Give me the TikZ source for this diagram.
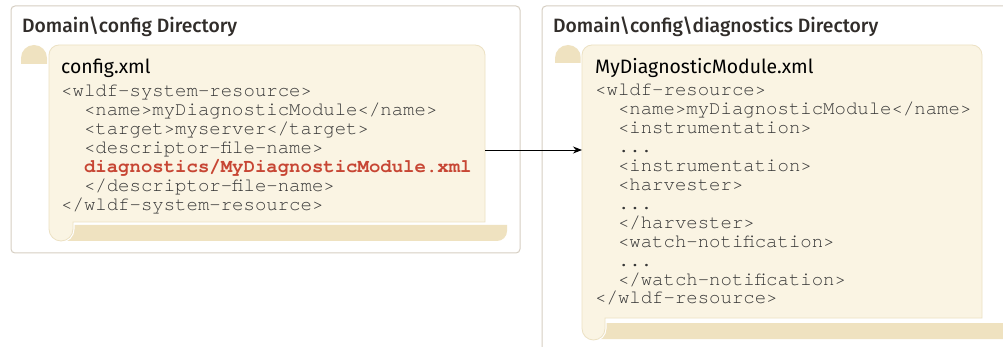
\documentclass[tikz,border=0pt]{standalone}
\usepackage{fontspec}
\setmainfont{Fira Sans}
\newfontfamily\headfont{Fira Sans Medium}
\setmonofont{texgyrecursor-regular.otf}[BoldFont=texgyrecursor-bold.otf]
\usetikzlibrary{arrows.meta}

\definecolor{paper}{RGB}{250,244,227}
\definecolor{paperedge}{RGB}{236,225,195}
\definecolor{curl}{RGB}{239,226,192}
\definecolor{frame}{RGB}{214,206,194}
\definecolor{ink}{RGB}{49,45,42}
\definecolor{codegray}{RGB}{55,55,55}
\definecolor{oraclered}{RGB}{199,70,52}

\tikzset{
	dirframe/.style={draw=frame, line width=1pt, rounded corners=4pt, fill=white},
	pagebody/.style={fill=paper, draw=paperedge, line width=0.8pt},
	pagecurl/.style={fill=curl},
	pagegap/.style={draw=white, line width=3pt},
	dirtitle/.style={anchor=base west, inner sep=0pt, text=ink, font=\headfont\fontsize{19.3}{19}\selectfont},
	filename/.style={anchor=base west, inner sep=0pt, text=black, font=\fontsize{19.4}{20}\selectfont},
	codeline/.style={anchor=base west, inner sep=0pt, text=codegray, font=\ttfamily\fontsize{19}{19}\selectfont},
	hilite/.style={codeline, text=oraclered, font=\ttfamily\bfseries\fontsize{19}{19}\selectfont},
	link/.style={-{Stealth[length=9pt,width=7pt]}, line width=0.9pt, draw=black}
}

\begin{document}
\begin{tikzpicture}[x=1pt,y=-1pt]
	\useasboundingbox (0,0) rectangle (1003,347);

	% directory frames
	\path[dirframe] (11,6) rectangle (520,253);
	\path[dirframe] (542,6) rectangle (1020,370);

	% config.xml page
	\path[pagecurl] (60,225) -- (507,225) -- (507,231) arc[start angle=0,end angle=90,radius=10] -- (60,241) -- cycle;
	\path[pagecurl] (21,64) -- (21,58) arc[start angle=180,end angle=360,radius=13] -- (47,64) -- cycle;
	\path[pagegap] (49,55) -- (49,229) arc[start angle=180,end angle=0,radius=12] -- (73,222) -- (485,222) -- (485,55) arc[start angle=0,end angle=-90,radius=10] -- (59,45) arc[start angle=-90,end angle=-180,radius=10] -- cycle;
	\path[pagebody] (49,55) -- (49,229) arc[start angle=180,end angle=0,radius=12] -- (73,222) -- (485,222) -- (485,55) arc[start angle=0,end angle=-90,radius=10] -- (59,45) arc[start angle=-90,end angle=-180,radius=10] -- cycle;

	% MyDiagnosticModule.xml page
	\path[pagecurl] (594,323) -- (1013,323) -- (1013,329) arc[start angle=0,end angle=90,radius=10] -- (594,339) -- cycle;
	\path[pagecurl] (555,63) -- (555,58) arc[start angle=180,end angle=360,radius=13] -- (581,63) -- cycle;
	\path[pagegap] (582,55) -- (582,328.5) arc[start angle=180,end angle=0,radius=11.5] -- (605,318) -- (982,318) -- (982,55) arc[start angle=0,end angle=-90,radius=10] -- (592,45) arc[start angle=-90,end angle=-180,radius=10] -- cycle;
	\path[pagebody] (582,55) -- (582,328.5) arc[start angle=180,end angle=0,radius=11.5] -- (605,318) -- (982,318) -- (982,55) arc[start angle=0,end angle=-90,radius=10] -- (592,45) arc[start angle=-90,end angle=-180,radius=10] -- cycle;

	% left side
	\node[dirtitle](cfgdir) at (22,33) {Domain\textbackslash config Directory};
	\node[filename](cfgfile) at (61,74) {config.xml};
	\node[codeline](cfg1) at (61,97) {<wldf-system-resource>};
	\node[codeline](cfg2) at (83.8,116) {<name>myDiagnosticModule</name>};
	\node[codeline](cfg3) at (83.8,135) {<target>myserver</target>};
	\node[codeline](cfg4) at (83.8,154) {<descriptor-file-name>};
	\node[hilite](cfg5) at (83.8,173) {diagnostics/MyDiagnosticModule.xml};
	\node[codeline](cfg6) at (83.8,192) {</descriptor-file-name>};
	\node[codeline](cfg7) at (61,211) {</wldf-system-resource>};

	% right side
	\node[dirtitle](moddir) at (553,33) {Domain\textbackslash config\textbackslash diagnostics Directory};
	\node[filename](modfile) at (595,74) {MyDiagnosticModule.xml};
	\node[codeline](mod1) at (595,96) {<wldf-resource>};
	\node[codeline](mod2) at (617.8,114.9) {<name>myDiagnosticModule</name>};
	\node[codeline](mod3) at (617.8,133.8) {<instrumentation>};
	\node[codeline](mod4) at (617.8,152.7) {...};
	\node[codeline](mod5) at (617.8,171.6) {<instrumentation>};
	\node[codeline](mod6) at (617.8,190.5) {<harvester>};
	\node[codeline](mod7) at (617.8,209.4) {...};
	\node[codeline](mod8) at (617.8,228.3) {</harvester>};
	\node[codeline](mod9) at (617.8,247.2) {<watch-notification>};
	\node[codeline](mod10) at (617.8,266.1) {...};
	\node[codeline](mod11) at (617.8,285) {</watch-notification>};
	\node[codeline](mod12) at (595,303.9) {</wldf-resource>};

	% reference to the module file
	\coordinate (cfgedge) at (485,150);
	\coordinate (modedge) at (582,150);
	\draw[link] (cfgedge) -- (modedge);
\end{tikzpicture}
\end{document}
